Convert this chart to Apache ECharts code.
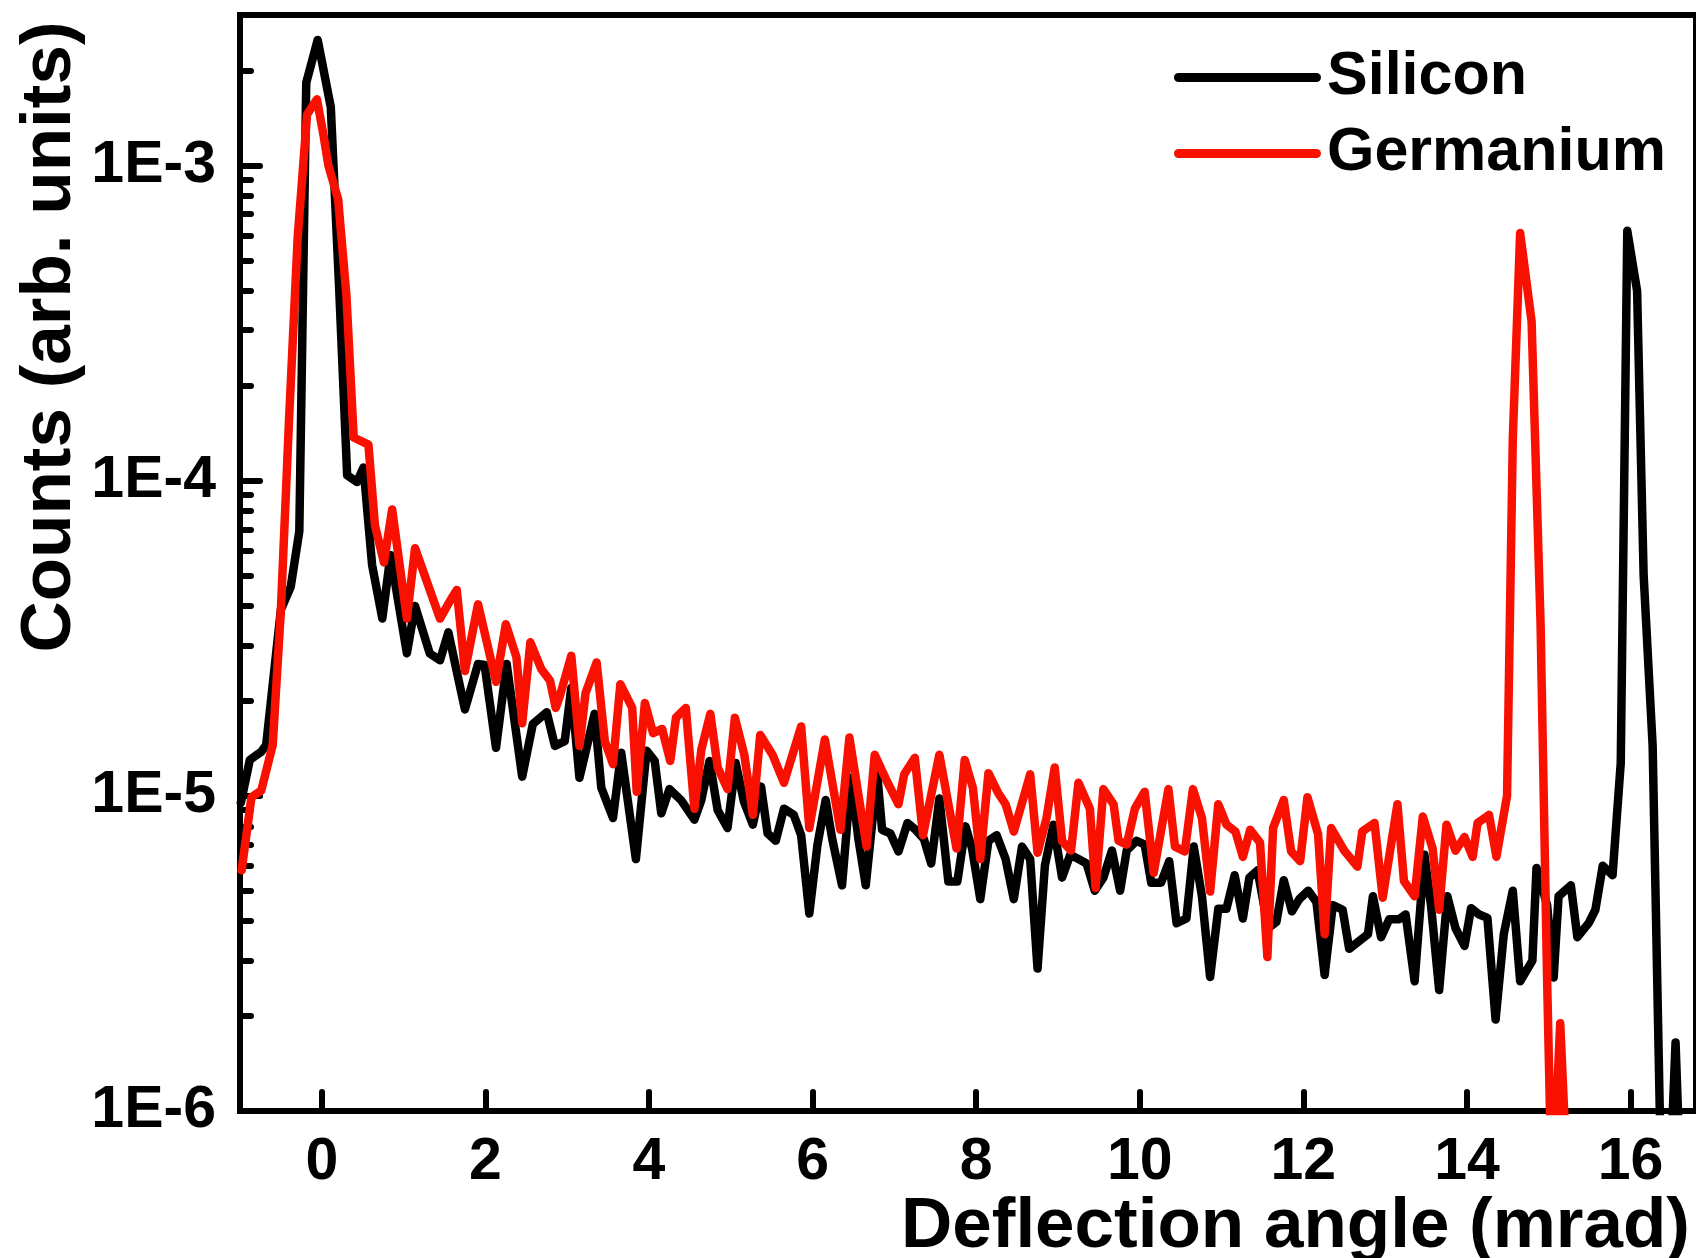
<!DOCTYPE html>
<html><head><meta charset="utf-8">
<script src="https://cdn.jsdelivr.net/npm/echarts@6/dist/echarts.min.js"></script>
<style>html,body{margin:0;padding:0;background:#fff}#c{width:1696px;height:1258px}</style>
</head><body><div id="c"></div>
<script>
// Silicon (black) – deflection angle (mrad) and counts
const siX = [
-0.99,-0.88,-0.74,-0.68,-0.5,-0.38,-0.275,-0.19,-0.05,0.11,
0.21,0.31,0.43,0.51,0.615,0.74,0.84,1.04,1.14,1.32,
1.445,1.547,1.75,1.91,1.99,2.13,2.26,2.45,2.58,2.75,
2.85,2.97,3.05,3.15,3.335,3.417,3.56,3.66,3.84,3.97,
4.07,4.15,4.25,4.39,4.555,4.64,4.74,4.84,4.96,5.06,
5.16,5.27,5.37,5.45,5.55,5.65,5.77,5.86,5.96,6.06,
6.16,6.24,6.36,6.47,6.56,6.65,6.79,6.85,6.95,7.05,
7.16,7.26,7.36,7.45,7.55,7.66,7.77,7.87,7.95,8.05,
8.15,8.25,8.36,8.46,8.56,8.66,8.75,8.84,8.945,9.05,
9.15,9.25,9.35,9.45,9.555,9.66,9.76,9.84,9.96,10.06,
10.14,10.26,10.36,10.45,10.57,10.66,10.76,10.86,10.96,11.06,
11.16,11.26,11.34,11.44,11.57,11.67,11.76,11.86,11.95,12.06,
12.16,12.26,12.36,12.48,12.56,12.79,12.85,12.95,13.05,13.17,
13.25,13.36,13.48,13.56,13.66,13.76,13.86,13.97,14.05,14.15,
14.25,14.35,14.45,14.56,14.65,14.8,14.85,14.98,15.06,15.12,
15.27,15.35,15.49,15.57,15.66,15.78,15.88,15.96,16.08,16.16,
16.27,16.38,16.47,16.55,16.62,16.8];
const siY = [
9.5e-6,1.3e-5,1.38e-5,1.45e-5,3.9e-5,4.6e-5,6.9e-5,1.83e-3,2.5e-3,1.53e-3,
4.2e-4,1.04e-4,9.9e-5,1.1e-4,5.4e-5,3.65e-5,5.8e-5,2.83e-5,4.0e-5,2.83e-5,
2.69e-5,3.3e-5,1.88e-5,2.62e-5,2.6e-5,1.42e-5,2.62e-5,1.15e-5,1.69e-5,1.84e-5,
1.44e-5,1.49e-5,2.2e-5,1.14e-5,1.82e-5,1.06e-5,8.5e-6,1.37e-5,6.3e-6,1.39e-5,
1.29e-5,8.8e-6,1.05e-5,9.7e-6,8.4e-6,9.7e-6,1.29e-5,9.0e-6,7.9e-6,1.27e-5,
9.6e-6,8.1e-6,1.07e-5,7.6e-6,7.2e-6,9.1e-6,8.7e-6,7.5e-6,4.23e-6,7.0e-6,
9.7e-6,7.3e-6,5.2e-6,1.14e-5,7.3e-6,5.2e-6,1.17e-5,7.8e-6,7.6e-6,6.66e-6,
8.2e-6,7.8e-6,7.3e-6,6.1e-6,9.8e-6,5.35e-6,5.35e-6,8.0e-6,6.8e-6,4.7e-6,
7.2e-6,7.5e-6,6.3e-6,4.7e-6,6.9e-6,6.3e-6,2.83e-6,6.0e-6,8.1e-6,5.5e-6,
6.5e-6,6.3e-6,6.1e-6,5.0e-6,5.5e-6,6.7e-6,5.0e-6,6.7e-6,7.2e-6,7.0e-6,
5.3e-6,5.3e-6,6.2e-6,3.94e-6,4.08e-6,6.9e-6,4.8e-6,2.66e-6,4.38e-6,4.38e-6,
5.6e-6,4.08e-6,5.5e-6,5.8e-6,3.8e-6,3.98e-6,5.4e-6,4.3e-6,4.7e-6,5.0e-6,
4.6e-6,2.7e-6,4.5e-6,4.35e-6,3.27e-6,3.64e-6,4.8e-6,3.56e-6,4.06e-6,4.06e-6,
4.2e-6,2.58e-6,6.5e-6,4.5e-6,2.42e-6,4.8e-6,3.8e-6,3.34e-6,4.4e-6,4.2e-6,
4.1e-6,1.95e-6,3.64e-6,5.0e-6,2.58e-6,3.0e-6,5.9e-6,4.5e-6,2.65e-6,4.8e-6,
5.2e-6,3.56e-6,3.95e-6,4.35e-6,6.0e-6,5.6e-6,1.27e-5,6.2e-4,4.0e-4,5.0e-5,
1.44e-5,5e-7,5e-7,1.65e-6,5e-7,5e-7];

// Germanium (red)
const geX = [
-0.98,-0.86,-0.74,-0.6,-0.5,-0.4,-0.295,-0.18,-0.06,0.02,
0.08,0.2,0.3,0.39,0.57,0.65,0.76,0.86,1.04,1.14,
1.445,1.567,1.65,1.75,1.91,2.13,2.25,2.38,2.45,2.55,
2.685,2.79,2.86,2.91,3.05,3.15,3.225,3.36,3.46,3.56,
3.65,3.795,3.85,3.95,4.05,4.16,4.26,4.33,4.45,4.555,
4.64,4.75,4.84,4.96,5.05,5.165,5.27,5.36,5.51,5.65,
5.86,5.96,6.15,6.34,6.45,6.66,6.76,6.91,7.05,7.12,
7.25,7.35,7.55,7.76,7.86,7.96,8.05,8.15,8.27,8.36,
8.46,8.66,8.75,8.86,8.96,9.05,9.16,9.25,9.39,9.46,
9.555,9.68,9.74,9.84,9.94,10.06,10.17,10.35,10.43,10.55,
10.65,10.76,10.86,10.96,11.06,11.17,11.26,11.35,11.47,11.56,
11.63,11.76,11.85,11.96,12.05,12.18,12.26,12.34,12.5,12.66,
12.72,12.87,12.97,13.15,13.23,13.36,13.46,13.58,13.66,13.75,
13.86,13.97,14.07,14.13,14.27,14.36,14.49,14.56,14.65,14.79,
14.9,14.98,15.04,15.14,15.24];
const geY = [
5.8e-6,9.9e-6,1.04e-5,1.45e-5,3.9e-5,1.57e-4,5.9e-4,1.45e-3,1.62e-3,1.25e-3,
1.0e-3,7.8e-4,3.9e-4,1.37e-4,1.3e-4,7.2e-5,5.5e-5,8.1e-5,3.65e-5,6.1e-5,
3.65e-5,4.15e-5,4.5e-5,2.49e-5,4.05e-5,2.3e-5,3.5e-5,2.75e-5,1.7e-5,3.07e-5,
2.52e-5,2.32e-5,1.9e-5,2.07e-5,2.78e-5,1.44e-5,2.12e-5,2.65e-5,1.49e-5,1.26e-5,
2.26e-5,1.9e-5,1.03e-5,1.97e-5,1.58e-5,1.63e-5,1.29e-5,1.77e-5,1.9e-5,9.1e-6,
1.4e-5,1.82e-5,1.23e-5,1.05e-5,1.77e-5,1.35e-5,8.7e-6,1.56e-5,1.35e-5,1.1e-5,
1.66e-5,7.9e-6,1.51e-5,7.8e-6,1.53e-5,6.9e-6,1.35e-5,1.11e-5,9.4e-6,1.17e-5,
1.32e-5,7.5e-6,1.35e-5,6.8e-6,1.3e-5,1.06e-5,6.3e-6,1.18e-5,1.02e-5,9.4e-6,
7.7e-6,1.17e-5,6.6e-6,8.5e-6,1.23e-5,7.2e-6,6.7e-6,1.1e-5,9.1e-6,5.1e-6,
1.05e-5,9.4e-6,7.2e-6,7.0e-6,9.1e-6,1.03e-5,5.7e-6,1.05e-5,6.9e-6,6.66e-6,
1.05e-5,8.5e-6,4.97e-6,9.4e-6,8.1e-6,7.7e-6,6.4e-6,7.8e-6,7.1e-6,3.08e-6,
7.9e-6,9.7e-6,6.66e-6,6.2e-6,9.9e-6,7.55e-6,3.64e-6,7.9e-6,6.7e-6,5.96e-6,
7.7e-6,8.2e-6,4.75e-6,9.4e-6,5.36e-6,4.8e-6,8.6e-6,6.8e-6,4.35e-6,8.1e-6,
6.7e-6,7.4e-6,6.4e-6,8.2e-6,8.7e-6,6.4e-6,1.0e-5,1.35e-4,6.1e-4,3.2e-4,
3.5e-5,2.6e-6,5e-7,1.9e-6,5e-7];

const xTicks = [0, 2, 4, 6, 8, 10, 12, 14, 16];
const yMajorTicks = [1e-6, 1e-5, 1e-4, 1e-3];
const yMinorTicks = [2e-6,3e-6,4e-6,5e-6,6e-6,7e-6,8e-6,9e-6,
  2e-5,3e-5,4e-5,5e-5,6e-5,7e-5,8e-5,9e-5,
  2e-4,3e-4,4e-4,5e-4,6e-4,7e-4,8e-4,9e-4,
  2e-3];
const seriesNames = ['Silicon', 'Germanium'];
const xTitle = 'Deflection angle (mrad)';
const yTitle = 'Counts (arb. units)';

const FONT = '"Liberation Sans", Arial, sans-serif';
const RED = '#F81000';
const LEGEND_ICON = 'path://M4.5,0 H142.5 A4.5,4.5 0 0 1 142.5,9 H4.5 A4.5,4.5 0 0 1 4.5,0 Z';
const chart = echarts.init(document.getElementById('c'), null, {renderer: 'canvas'});

const axisLineStyle = {color: '#000', width: 6};
const tickStyle = {color: '#000', width: 6, cap: 'round'};

chart.setOption({
  animation: false,
  backgroundColor: '#fff',
  grid: {left: 240, top: 15, width: 1460, height: 1096, show: true, borderColor: '#000', borderWidth: 6, backgroundColor: 'transparent'},
  xAxis: {
    type: 'value', min: -1, max: 16.8,
    axisLine: {onZero: false, lineStyle: axisLineStyle},
    axisTick: {inside: true, length: 19, customValues: xTicks, lineStyle: tickStyle},
    axisLabel: {customValues: xTicks, fontSize: 59, fontWeight: 'bold', fontFamily: FONT, color: '#000', margin: 22},
    splitLine: {show: false}
  },
  yAxis: [{
    type: 'log', logBase: 10, min: 1e-6, max: 3e-3, position: 'left',
    axisLine: {onZero: false, lineStyle: axisLineStyle},
    axisTick: {inside: true, length: 20, customValues: yMajorTicks, lineStyle: tickStyle},
    axisLabel: {customValues: yMajorTicks, fontSize: 59, fontWeight: 'bold', fontFamily: FONT, color: '#000', margin: 24,
      formatter: v => '1E' + Math.round(Math.log10(v))},
    splitLine: {show: false}
  }, {
    type: 'log', logBase: 10, min: 1e-6, max: 3e-3, position: 'left',
    axisLine: {show: false, onZero: false},
    axisTick: {inside: true, length: 11, customValues: yMinorTicks, lineStyle: tickStyle},
    axisLabel: {show: false},
    splitLine: {show: false}
  }],
  legend: {
    orient: 'vertical', left: 1169, top: 42,
    itemWidth: 147, itemHeight: 9, itemGap: 15,
    data: seriesNames.map(n => ({name: n, icon: LEGEND_ICON})),
    textStyle: {fontSize: 61, fontWeight: 'bold', fontFamily: FONT, color: '#000', padding: [0, 0, 0, 1]}
  },
  series: [{
    name: seriesNames[0], type: 'line', yAxisIndex: 0,
    data: siX.map((x, i) => [x, siY[i]]),
    symbol: 'none', showSymbol: false, z: 3,
    lineStyle: {color: '#000', width: 8.5, cap: 'round', join: 'round'},
    itemStyle: {color: '#000'}
  }, {
    name: seriesNames[1], type: 'line', yAxisIndex: 0,
    data: geX.map((x, i) => [x, geY[i]]),
    symbol: 'none', showSymbol: false, z: 4,
    lineStyle: {color: RED, width: 8.5, cap: 'round', join: 'round'},
    itemStyle: {color: RED}
  }],
  graphic: [{
    type: 'text', x: 50, y: 337, rotation: Math.PI / 2,
    style: {text: yTitle, fontSize: 71, fontWeight: 'bold', fontFamily: FONT, fill: '#000', align: 'center', verticalAlign: 'middle'}
  }, {
    type: 'text', x: 1690, y: 1227,
    style: {text: xTitle, fontSize: 71, fontWeight: 'bold', fontFamily: FONT, fill: '#000', align: 'right', verticalAlign: 'middle'}
  }]
});
</script>
</body></html>
